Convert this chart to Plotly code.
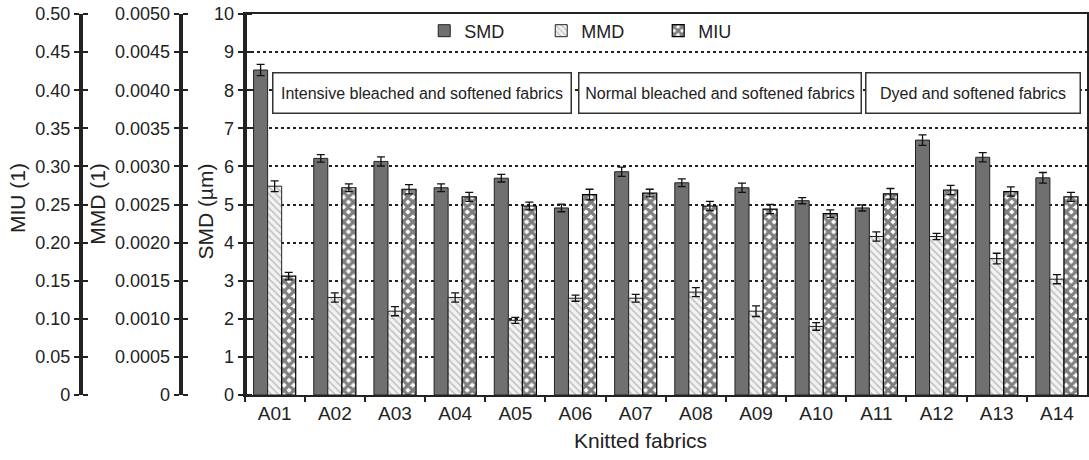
import plotly.graph_objects as go

# Knitted fabric samples
fabrics = ["A01", "A02", "A03", "A04", "A05", "A06", "A07",
           "A08", "A09", "A10", "A11", "A12", "A13", "A14"]

# Surface roughness-related measures
smd = [8.53, 6.21, 6.13, 5.44, 5.69, 4.91, 5.86, 5.57, 5.44, 5.10, 4.91, 6.69, 6.24, 5.70]
smd_err = [0.15, 0.10, 0.12, 0.10, 0.10, 0.10, 0.12, 0.10, 0.12, 0.08, 0.08, 0.14, 0.12, 0.14]

mmd = [0.00274, 0.00128, 0.00110, 0.00128, 0.00098, 0.00127, 0.00127,
       0.00135, 0.00110, 0.00090, 0.00208, 0.00208, 0.00179, 0.00152]
mmd_err = [0.00007, 0.00006, 0.00006, 0.00006, 0.00004, 0.00004, 0.00005,
           0.00006, 0.00007, 0.00005, 0.00006, 0.00004, 0.00007, 0.00006]

miu = [0.156, 0.272, 0.270, 0.260, 0.248, 0.263, 0.265,
       0.248, 0.244, 0.238, 0.264, 0.269, 0.267, 0.260]
miu_err = [0.005, 0.005, 0.006, 0.006, 0.005, 0.007, 0.005,
           0.006, 0.006, 0.005, 0.007, 0.006, 0.006, 0.006]

# Axis tick values / labels
smd_ticks = [0, 1, 2, 3, 4, 5, 6, 7, 8, 9, 10]
mmd_ticks = [0, 0.0005, 0.0010, 0.0015, 0.0020, 0.0025, 0.0030, 0.0035, 0.0040, 0.0045, 0.0050]
mmd_labels = ["0", "0.0005", "0.0010", "0.0015", "0.0020", "0.0025", "0.0030",
              "0.0035", "0.0040", "0.0045", "0.0050"]
miu_ticks = [0, 0.05, 0.10, 0.15, 0.20, 0.25, 0.30, 0.35, 0.40, 0.45, 0.50]
miu_labels = ["0", "0.05", "0.10", "0.15", "0.20", "0.25", "0.30",
              "0.35", "0.40", "0.45", "0.50"]

SMD_RANGE = [0, 10]
MMD_RANGE = [0, 0.005]
MIU_RANGE = [0, 0.5]

group_labels = ["Intensive bleached and softened fabrics",
                "Normal bleached and softened fabrics",
                "Dyed and softened fabrics"]

W, H = 1089, 460
TOP, BOTTOM = 14, 395
FONT = "Liberation Sans, Arial, sans-serif"
INK = "#222222"


def px_x(p):
    return p / W


def px_y(p):
    return 1 - (p - TOP) / (BOTTOM - TOP)


err_style = dict(type="data", color="#111111", thickness=1.3, width=4)

fig = go.Figure()
fig.add_trace(go.Bar(
    name="SMD", x=fabrics, y=smd, yaxis="y",
    error_y=dict(array=smd_err, **err_style),
    marker=dict(color="#707070", line=dict(color=INK, width=1)),
    offsetgroup="1", alignmentgroup="g",
))
fig.add_trace(go.Bar(
    name="MMD", x=fabrics, y=mmd, yaxis="y2",
    error_y=dict(array=mmd_err, **err_style),
    marker=dict(color="#f2f2f2", line=dict(color=INK, width=1),
                pattern=dict(shape="\\", fgcolor="#8c8c8c", bgcolor="#f2f2f2",
                             size=5, solidity=0.3)),
    offsetgroup="2", alignmentgroup="g",
))
fig.add_trace(go.Bar(
    name="MIU", x=fabrics, y=miu, yaxis="y3",
    error_y=dict(array=miu_err, **err_style),
    marker=dict(color="white", line=dict(color="#000000", width=1.2),
                pattern=dict(shape="x", fgcolor="#000000", bgcolor="white",
                             size=7, solidity=0.72)),
    offsetgroup="3", alignmentgroup="g",
))

# Empty traces so the three stand-alone scale subplots get drawn
for xa, ya in [("x2", "y4"), ("x3", "y5"), ("x4", "y6")]:
    fig.add_trace(go.Scatter(x=[None], y=[None], xaxis=xa, yaxis=ya, mode="markers",
                             showlegend=False, hoverinfo="skip"))

tick_font = dict(family=FONT, size=18, color=INK)
line_style = dict(showline=True, linecolor=INK, linewidth=2, zeroline=False, fixedrange=True)


def scale_axis(rng, tickvals, ticktext, xname):
    """A stand-alone left axis whose ticks cross the axis line."""
    return dict(range=rng, tickvals=tickvals, ticktext=ticktext, anchor=xname,
                side="left", mirror="ticks", ticks="outside", ticklen=5, tickwidth=2,
                tickcolor=INK, tickfont=tick_font, showgrid=False, **line_style)


def stub_x(pos_px, yname):
    return dict(domain=[px_x(pos_px), px_x(pos_px + 0.5)], anchor=yname,
                visible=False, fixedrange=True, range=[0, 1])


fig.update_layout(
    width=W, height=H,
    margin=dict(l=0, r=0, t=TOP, b=H - BOTTOM),
    paper_bgcolor="white", plot_bgcolor="white",
    barmode="group", bargap=0.3, bargroupgap=0,
    font=dict(family=FONT, color=INK),
    xaxis=dict(domain=[px_x(245), 1], tickson="boundaries", mirror=True,
               ticks="outside", ticklen=5, tickwidth=2, tickcolor=INK,
               tickfont=dict(family=FONT, size=19, color=INK), **line_style),
    # data axis for SMD: grid + frame; its scale is drawn by yaxis6
    yaxis=dict(range=SMD_RANGE, tickvals=smd_ticks, mirror=True, ticks="",
               showticklabels=False, showgrid=True, gridcolor=INK, gridwidth=1.5,
               griddash="3px,3px", **line_style),
    yaxis2=dict(range=MMD_RANGE, overlaying="y", visible=False, fixedrange=True),
    yaxis3=dict(range=MIU_RANGE, overlaying="y", visible=False, fixedrange=True),
    # visible scales
    xaxis2=stub_x(81, "y4"), xaxis3=stub_x(181, "y5"), xaxis4=stub_x(245, "y6"),
    yaxis4=scale_axis(MIU_RANGE, miu_ticks, miu_labels, "x2"),
    yaxis5=scale_axis(MMD_RANGE, mmd_ticks, mmd_labels, "x3"),
    yaxis6=scale_axis(SMD_RANGE, smd_ticks, [str(v) for v in smd_ticks], "x4"),
    legend=dict(orientation="h", x=px_x(425), y=px_y(31), xanchor="left", yanchor="middle",
                entrywidth=72, entrywidthmode="pixels", itemwidth=30,
                font=dict(family=FONT, size=18, color=INK), bgcolor="rgba(0,0,0,0)",
                traceorder="normal"),
    showlegend=True,
)

# Axis titles
title_font = dict(family=FONT, size=21, color=INK)
for text, xc, yc in [("MIU (1)", 17, 198), ("MMD (1)", 97, 204), ("SMD (µm)", 205, 212)]:
    fig.add_annotation(text=text, xref="paper", yref="paper", x=px_x(xc), y=px_y(yc),
                       textangle=-90, showarrow=False, xanchor="center", yanchor="middle",
                       font=title_font)
fig.add_annotation(text="Knitted fabrics", xref="paper", yref="paper",
                   x=px_x(642), y=px_y(440), showarrow=False,
                   xanchor="center", yanchor="middle", font=title_font)

# Fabric group boxes
for text, left, right in zip(group_labels, [273, 579, 867], [573, 863, 1083]):
    fig.add_annotation(text=text, xref="paper", yref="paper",
                       x=px_x((left + right) / 2), y=px_y(93),
                       width=right - left - 3, height=39, showarrow=False,
                       xanchor="center", yanchor="middle", align="center",
                       bgcolor="white", bordercolor="#333333", borderwidth=1.5, borderpad=0,
                       font=dict(family=FONT, size=16, color=INK))

fig.write_html("out.html")
